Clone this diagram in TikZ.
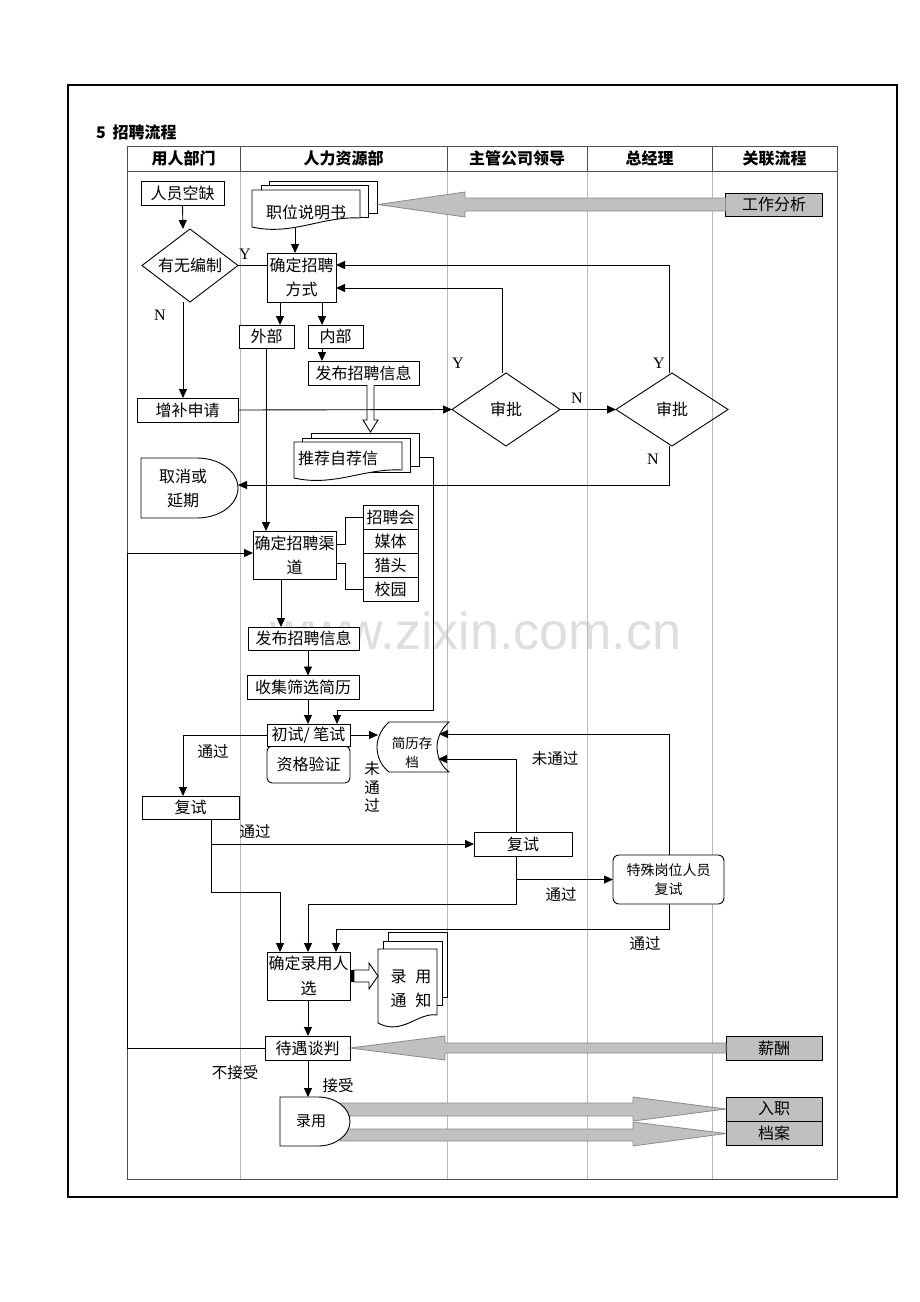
\documentclass[tikz,border=0pt]{standalone}
\usepackage{fontspec}
\setmainfont{Noto Sans CJK SC}
\newfontfamily\latserif{Liberation Serif}
\newfontfamily\latsans{Liberation Sans}
\usetikzlibrary{arrows.meta,calc}
\definecolor{boxgray}{HTML}{C0C0C0}
\definecolor{arrowgray}{HTML}{C0C0C0}
\definecolor{arrowedge}{HTML}{8A8A8A}
\definecolor{lanegray}{HTML}{B8B8B8}
\definecolor{hdrgray}{HTML}{505050}
\definecolor{wmgray}{HTML}{DEDEDE}
\newcommand\ftA{\fontsize{16pt}{19pt}\selectfont}
\newcommand\ftB{\fontsize{16pt}{24pt}\selectfont}
\newcommand\ftD{\fontsize{16pt}{25pt}\selectfont}
\newcommand\ftL{\fontsize{15.5pt}{18.5pt}\selectfont}
\newcommand\ftS{\fontsize{13.5pt}{19pt}\selectfont}
\newcommand\ftT{\fontsize{14pt}{19pt}\selectfont}
\begin{document}
\begin{tikzpicture}[x=1pt,y=-1pt,
  every node/.style={inner sep=0pt, outer sep=0pt},
  box/.style={draw, line width=0.9pt, fill=white, align=center, font=\ftA},
  ghost/.style={align=center, font=\ftA},
  con/.style={line width=0.9pt},
  arr/.style={con, -{Triangle[length=9pt,width=8pt]}},
  lbl/.style={font=\ftL, align=center},
  ylbl/.style={font=\latserif\fontsize{16pt}{18pt}\selectfont},
  grayarrow/.style={fill=arrowgray, draw=arrowedge, line width=0.8pt},
  graybox/.style={box, fill=boxgray},
  hollowbox/.style={draw, fill=white, line width=0.9pt},
  hollowarr/.style={draw, fill=white, line width=0.9pt},
  hdrtext/.style={font=\bfseries\fontsize{16pt}{19pt}\selectfont}
]
\fill[white] (0,0) rectangle (920,1302);
\useasboundingbox (0,0) rectangle (920,1302);

% watermark
\node[font=\latsans\fontsize{52pt}{60pt}\selectfont, text=wmgray] (wm) at (476,631) {www.zixin.com.cn};

% frame and title
\draw[line width=2pt] (68,85) rectangle (897,1197);
\node[font=\bfseries\fontsize{16pt}{19pt}\selectfont, anchor=west] (title) at (96,132) {5\hspace{7pt}招聘流程};

% table
\foreach \x in {240,447,587,712} {
  \draw[lanegray, line width=0.8pt] (\x,171) -- (\x,1179);
  \draw[hdrgray, line width=0.9pt] (\x,146) -- (\x,171);
}
\draw[hdrgray, line width=0.9pt] (127,146) rectangle (837,1179);
\draw[hdrgray, line width=0.9pt] (127,171) -- (837,171);
\node[hdrtext] (h1) at (183.5,158.5) {用人部门};
\node[hdrtext] (h2) at (343.5,158.5) {人力资源部};
\node[hdrtext] (h3) at (517,158.5) {主管公司领导};
\node[hdrtext] (h4) at (649.5,158.5) {总经理};
\node[hdrtext] (h5) at (774.5,158.5) {关联流程};

% ---- related-process gray boxes
\node[graybox, minimum width=97pt, minimum height=23pt] (gzfx) at (774,204.5) {工作分析};
\node[graybox, minimum width=96pt, minimum height=24pt] (xc) at (774,1048) {薪酬};

% ---- first column / HR nodes
\node[box, minimum width=83pt, minimum height=24pt] (ryqq) at (182.5,193) {人员空缺};
\node[ghost, minimum width=96pt, minimum height=73pt] (ywbz) at (190,265.5) {有无编制};
\draw[con] (ywbz.north) -- (ywbz.east) -- (ywbz.south) -- (ywbz.west) -- cycle;

% 职位说明书 (multi-document)
\draw[hollowbox] (269,181) rectangle (377,213);
\draw[hollowbox] (261,185) rectangle (368,217);
\draw[hollowbox] (252,190) -- (360,190) -- (360,218) .. controls (322,216) and (292,236) .. (252,227) -- cycle;
\node[ghost, minimum width=108pt, minimum height=32pt] (zwsms) at (306,212) {职位说明书};

\node[box, minimum width=69pt, minimum height=49pt, font=\ftB] (qdfs) at (301.5,277.5) {确定招聘\\方式};
\node[box, minimum width=55pt, minimum height=23pt] (wb) at (266.5,336.5) {外部};
\node[box, minimum width=55pt, minimum height=23pt] (nb) at (335.5,336.5) {内部};
\node[box, minimum width=111pt, minimum height=24pt] (fb1) at (363.5,373) {发布招聘信息};
\node[box, minimum width=101pt, minimum height=24pt] (zbsq) at (187.5,410) {增补申请};

% approvals
\node[ghost, minimum width=108pt, minimum height=73pt] (sp1) at (506,409.5) {审批};
\draw[con] (sp1.north) -- (sp1.east) -- (sp1.south) -- (sp1.west) -- cycle;
\node[ghost, minimum width=112pt, minimum height=73pt] (sp2) at (672,409.5) {审批};
\draw[con] (sp2.north) -- (sp2.east) -- (sp2.south) -- (sp2.west) -- cycle;

% hollow arrow fb1 -> 推荐自荐信
\coordinate (ha) at (367,0 |- fb1.south);
\draw[hollowarr] (ha) -- ++(0,35) -- ++(-4,0) -- ++(7.5,12) -- ++(7.5,-12) -- ++(-4,0) -- ++(0,-35);

% 推荐自荐信
\draw[hollowbox] (311,433) rectangle (419,466);
\draw[hollowbox] (302,438) rectangle (410,472);
\draw[hollowbox] (294,442) -- (402,442) -- (402,470) .. controls (364,468) and (334,487) .. (294,478) -- cycle;
\node[ghost, minimum width=80pt, minimum height=20pt] (tjzj) at (338,458) {推荐自荐信};
\coordinate (tjr) at (419,457);

% 取消或延期 (delay)
\node[ghost, minimum width=97pt, minimum height=60pt] (qxyq) at (189.5,488) {};
\draw[con, fill=white] (qxyq.north west) -- (197,458) .. controls (219.6,458) and (238,471.4) .. (238,488) .. controls (238,504.6) and (219.6,518) .. (197,518) -- (qxyq.south west) -- cycle;
\node[ghost, font=\ftB] (qxyqt) at (183,488) {取消或\\延期};

% channels
\node[box, minimum width=83pt, minimum height=48pt, font=\ftB] (qdqd) at (294.5,555) {确定招聘渠\\道};
\node[box, minimum width=55pt, minimum height=24pt] (zph) at (390.5,517.5) {招聘会};
\node[box, minimum width=55pt, minimum height=24pt] (mt) at (390.5,541.5) {媒体};
\node[box, minimum width=55pt, minimum height=24pt] (lt) at (390.5,565.5) {猎头};
\node[box, minimum width=55pt, minimum height=24pt] (xy) at (390.5,589.5) {校园};

\node[box, minimum width=111pt, minimum height=23pt] (fb2) at (303.5,638.5) {发布招聘信息};
\node[box, minimum width=112pt, minimum height=24pt] (sjsx) at (303,687.5) {收集筛选简历};

\node[box, rounded corners=5pt, minimum width=83pt, minimum height=37pt] (zgyz) at (308.5,764.5) {资格验证};
\node[box, minimum width=83pt, minimum height=22pt] (csbs) at (308.5,735) {初试/ 笔试};

% 简历存档 (stored data)
\node[ghost, minimum width=70pt, minimum height=50pt] (jlcd) at (413,747) {};
\draw[con, fill=white] (389,722) -- (449,722) .. controls (440,730) and (437,740) .. (437,747) .. controls (437,755) and (440,765) .. (449,772) -- (389,772) .. controls (380,765) and (377,755) .. (377,747) .. controls (377,740) and (380,730) .. (389,722) -- cycle;
\node[ghost, font=\ftS] (jlcdt) at (412,753) {简历存\\档};
\coordinate (jlin1) at (438,759);
\coordinate (jlin2) at (439,734);

\node[box, minimum width=97pt, minimum height=23pt] (fs1) at (190.5,807.5) {复试};
\node[box, minimum width=98pt, minimum height=24pt] (fs2) at (523,844) {复试};
\node[box, rounded corners=6pt, minimum width=111pt, minimum height=49pt, font=\ftT] (tsfs) at (668.5,879.5) {特殊岗位人员\\复试};

\node[box, minimum width=83pt, minimum height=48pt, font=\ftD] (lyrx) at (308.5,976) {确定录用人\\选};

% 录用通知
\draw[hollowbox] (388,932) rectangle (447,997);
\draw[hollowbox] (383,941) rectangle (442,1005);
\draw[hollowbox] (378,949) -- (437,949) -- (437,1015) .. controls (418,1012) and (402,1036) .. (378,1023) -- cycle;
\node[ghost, font=\ftB] (lytz) at (411,988.5) {录\hspace{9pt}用\\通\hspace{9pt}知};

% hollow arrow lyrx -> 录用通知
\fill ($(lyrx.east)+(0,-6)$) rectangle ++(4,12);
\draw[hollowarr] ($(lyrx.east)+(4,-6)$) -- ++(15,0) -- ++(0,-7) -- ++(9,13) -- ++(-9,13) -- ++(0,-7) -- ++(-15,0) -- cycle;

\node[box, minimum width=85pt, minimum height=24pt] (dytp) at (307.5,1048) {待遇谈判};

% gray arrows
\draw[grayarrow] (gzfx.west |- 0,198) -- (465,198) -- (465,192) -- (378,204.5) -- (465,217) -- (465,211) -- (gzfx.west |- 0,211) -- cycle;
\draw[grayarrow] (xc.west |- 0,1043) -- (445,1043) -- (445,1036) -- (dytp.east) -- (445,1060) -- (445,1053) -- (xc.west |- 0,1053) -- cycle;
\draw[grayarrow] (340,1103) -- (633,1103) -- (633,1097) -- (726,1109) -- (633,1121) -- (633,1116) -- (340,1116) -- cycle;
\draw[grayarrow] (340,1129) -- (633,1129) -- (633,1122) -- (726,1133.5) -- (633,1146) -- (633,1141) -- (340,1141) -- cycle;
\node[graybox, minimum width=96pt, minimum height=24pt] (rz) at (774,1109) {入职};
\node[graybox, minimum width=96pt, minimum height=24pt] (da) at (774,1133) {档案};

% 录用 (delay)
\node[ghost, minimum width=70pt, minimum height=49pt] (luyong) at (315,1121.5) {};
\draw[con, fill=white] (luyong.north west) -- (318,1097) .. controls (335.7,1097) and (350,1108) .. (350,1121.5) .. controls (350,1135) and (335.7,1146) .. (318,1146) -- (luyong.south west) -- cycle;
\node[ghost, font=\fontsize{15pt}{18pt}\selectfont] (luyongt) at (311,1121.5) {录用};

% ---- connectors
\draw[arr] (ryqq.south) -- (183,0 |- ywbz.north);
\draw[con] (ywbz.east) -- (ywbz.east -| qdfs.west);
\draw[arr] (183,0 |- ywbz.south) -- (183,0 |- zbsq.north);
\draw[arr] (295,0 |- zwsms.south) -- (295,0 |- qdfs.north);
\draw[arr] (280,0 |- qdfs.south) -- (280,0 |- wb.north);
\draw[arr] (322,0 |- qdfs.south) -- (322,0 |- nb.north);
\draw[arr] (322,0 |- nb.south) -- (322,0 |- fb1.north);
\draw[arr] (zbsq.east) -- (sp1.west);
\draw[arr] (502,0 |- sp1.north) -- (502,288) -- (502,288 -| qdfs.east);
\draw[arr] (sp1.east) -- (sp2.west);
\draw[arr] (669,0 |- sp2.north) -- (669,265) -- (669,265 -| qdfs.east);
\draw[arr] (669,0 |- sp2.south) -- (669,485) -- (238,485);
\draw[arr] (266,0 |- wb.south) -- (266,0 |- qdqd.north);
\draw[con] (qdqd.east |- 0,544) -- (345,544) |- (zph.west);
\draw[con] (qdqd.east |- 0,563) -- (345,563) |- (xy.west);
\draw[arr] (dytp.west) -- (127,0 |- dytp.west) -- (127,553) -- (127,553 -| qdqd.west);
\draw[arr] (281,0 |- qdqd.south) -- (281,0 |- fb2.north);
\draw[arr] (308,0 |- fb2.south) -- (308,0 |- sjsx.north);
\draw[arr] (308,0 |- sjsx.south) -- (308,0 |- csbs.north);
\draw[arr] (tjr) -- (433,457) -- (433,710) -- (337,710) -- (337,0 |- csbs.north);
\draw[arr] (csbs.east) -- (jlcd.west |- csbs.east);
\draw[arr] (csbs.west) -- (183,0 |- csbs.west) -- (183,0 |- fs1.north);
\draw[arr] (211,0 |- fs1.south) |- (280,892) -- (280,0 |- lyrx.north);
\draw[arr] (211,0 |- fs2.west) -- (fs2.west);
\draw[arr] (516,0 |- fs2.north) |- (jlin1);
\draw[arr] (516,0 |- fs2.south) |- (tsfs.west);
\draw[arr] (516,879.5) -- (516,904) -- (308,904) -- (308,0 |- lyrx.north);
\draw[arr] (669,0 |- tsfs.north) |- (jlin2);
\draw[arr] (669,0 |- tsfs.south) -- (669,929) -- (336,929) -- (336,0 |- lyrx.north);
\draw[arr] (308,0 |- lyrx.south) -- (308,0 |- dytp.north);
\draw[arr] (308,0 |- dytp.south) -- (308,0 |- luyong.north);

% ---- labels
\node[ylbl] (y1) at (245,254) {Y};
\node[ylbl] (n1) at (160,315) {N};
\node[ylbl] (y2) at (458,363) {Y};
\node[ylbl] (n2) at (577,398) {N};
\node[ylbl] (y3) at (659,363) {Y};
\node[ylbl] (n3) at (653,459) {N};
\node[lbl] (tg1) at (213,752) {通过};
\node[lbl] (tg2) at (255,832) {通过};
\node[lbl] (tg3) at (561,895) {通过};
\node[lbl] (tg4) at (645,944) {通过};
\node[lbl] (wtg1) at (555,759) {未通过};
\node[lbl, font=\ftL] (wtg2) at (372,787) {未\\通\\过};
\node[lbl] (bjs) at (235,1073) {不接受};
\node[lbl] (js) at (338,1086) {接受};
\end{tikzpicture}
\end{document}
